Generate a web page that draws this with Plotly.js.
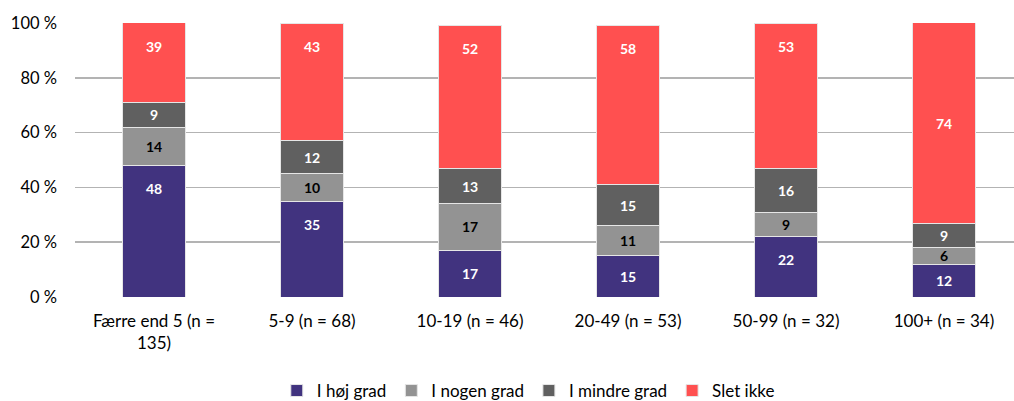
<!DOCTYPE html>
<html><head><meta charset="utf-8">
<script src="https://cdn.plot.ly/plotly-3.0.1.min.js"></script>
<style>html,body{margin:0;padding:0;background:#fff}#chart{width:1014px;height:401px}</style>
</head><body><div id="chart"></div>
<script>
const categories = ["Færre end 5 (n =<br>135)", "5-9 (n = 68)", "10-19 (n = 46)", "20-49 (n = 53)", "50-99 (n = 32)", "100+ (n = 34)"];
const hojGrad = [48, 35, 17, 15, 22, 12];
const nogenGrad = [14, 10, 17, 11, 9, 6];
const mindreGrad = [9, 12, 13, 15, 16, 9];
const sletIkke = [39, 43, 52, 58, 53, 74];
const seriesNames = ["I høj grad", "I nogen grad", "I mindre grad", "Slet ikke"];
const yTicks = [0, 20, 40, 60, 80, 100];

const series = [hojGrad, nogenGrad, mindreGrad, sletIkke];
const colors = ["#41337F", "#939393", "#606060", "#FF5050"];
const textColors = ["#ffffff", "#000000", "#ffffff", "#ffffff"];
const yMax = 100;
// label placement (Excel "inside end" style): label ~23px below segment top, or centred if the segment is short
const plotHeightPx = 274;
const labelOffset = 23 * yMax / plotHeightPx;
// label that the original chart shows centred in its segment: [category index, series index]
const centredLabels = [[5, 3]];

const data = series.map((vals, i) => ({
  type: "bar",
  name: seriesNames[i],
  x: categories,
  y: vals,
  marker: {color: colors[i], line: {color: "#e6e6e6", width: 1}},
  width: 0.4,
  hoverinfo: "none"
}));

const annotations = [];
categories.forEach((cat, c) => {
  let base = 0;
  series.forEach((vals, s) => {
    const top = base + vals[c];
    const visTop = Math.min(top, yMax);
    const centre = (base + visTop) / 2;
    const isCentred = centredLabels.some(p => p[0] === c && p[1] === s);
    const y = isCentred ? centre : Math.max(centre, visTop - labelOffset);
    annotations.push({
      x: cat, y: y, xref: "x", yref: "y",
      text: String(vals[c]), showarrow: false,
      xanchor: "center", yanchor: "middle",
      font: {family: "Lato, sans-serif", size: 14, color: textColors[s], weight: "bold"}
    });
    base = top;
  });
});

const layout = {
  width: 1014, height: 401,
  margin: {l: 75, r: 0, t: 23, b: 104, autoexpand: false},
  barmode: "stack",
  showlegend: true,
  font: {family: "Lato, sans-serif", size: 17, color: "#000"},
  xaxis: {
    type: "category",
    range: [-0.5, 5.443],
    showgrid: false, zeroline: false, showline: false,
    ticks: "", tickfont: {size: 17},
    ticklabelstandoff: 12
  },
  yaxis: {
    range: [0, yMax],
    tickvals: yTicks,
    ticktext: yTicks.map(v => v + " %"),
    showgrid: true, gridcolor: "#b3b3b3", gridwidth: 1.5,
    zeroline: false, showline: false, ticks: "",
    ticklabelstandoff: 17,
    tickfont: {size: 16.5}
  },
  legend: {
    orientation: "h", xref: "container", yref: "container",
    x: 0.521, xanchor: "center", y: 0.025, yanchor: "middle",
    font: {size: 17}, traceorder: "normal", itemwidth: 30
  },
  annotations: annotations
};
Plotly.newPlot("chart", data, layout, {displayModeBar: false, staticPlot: true});
</script></body></html>
